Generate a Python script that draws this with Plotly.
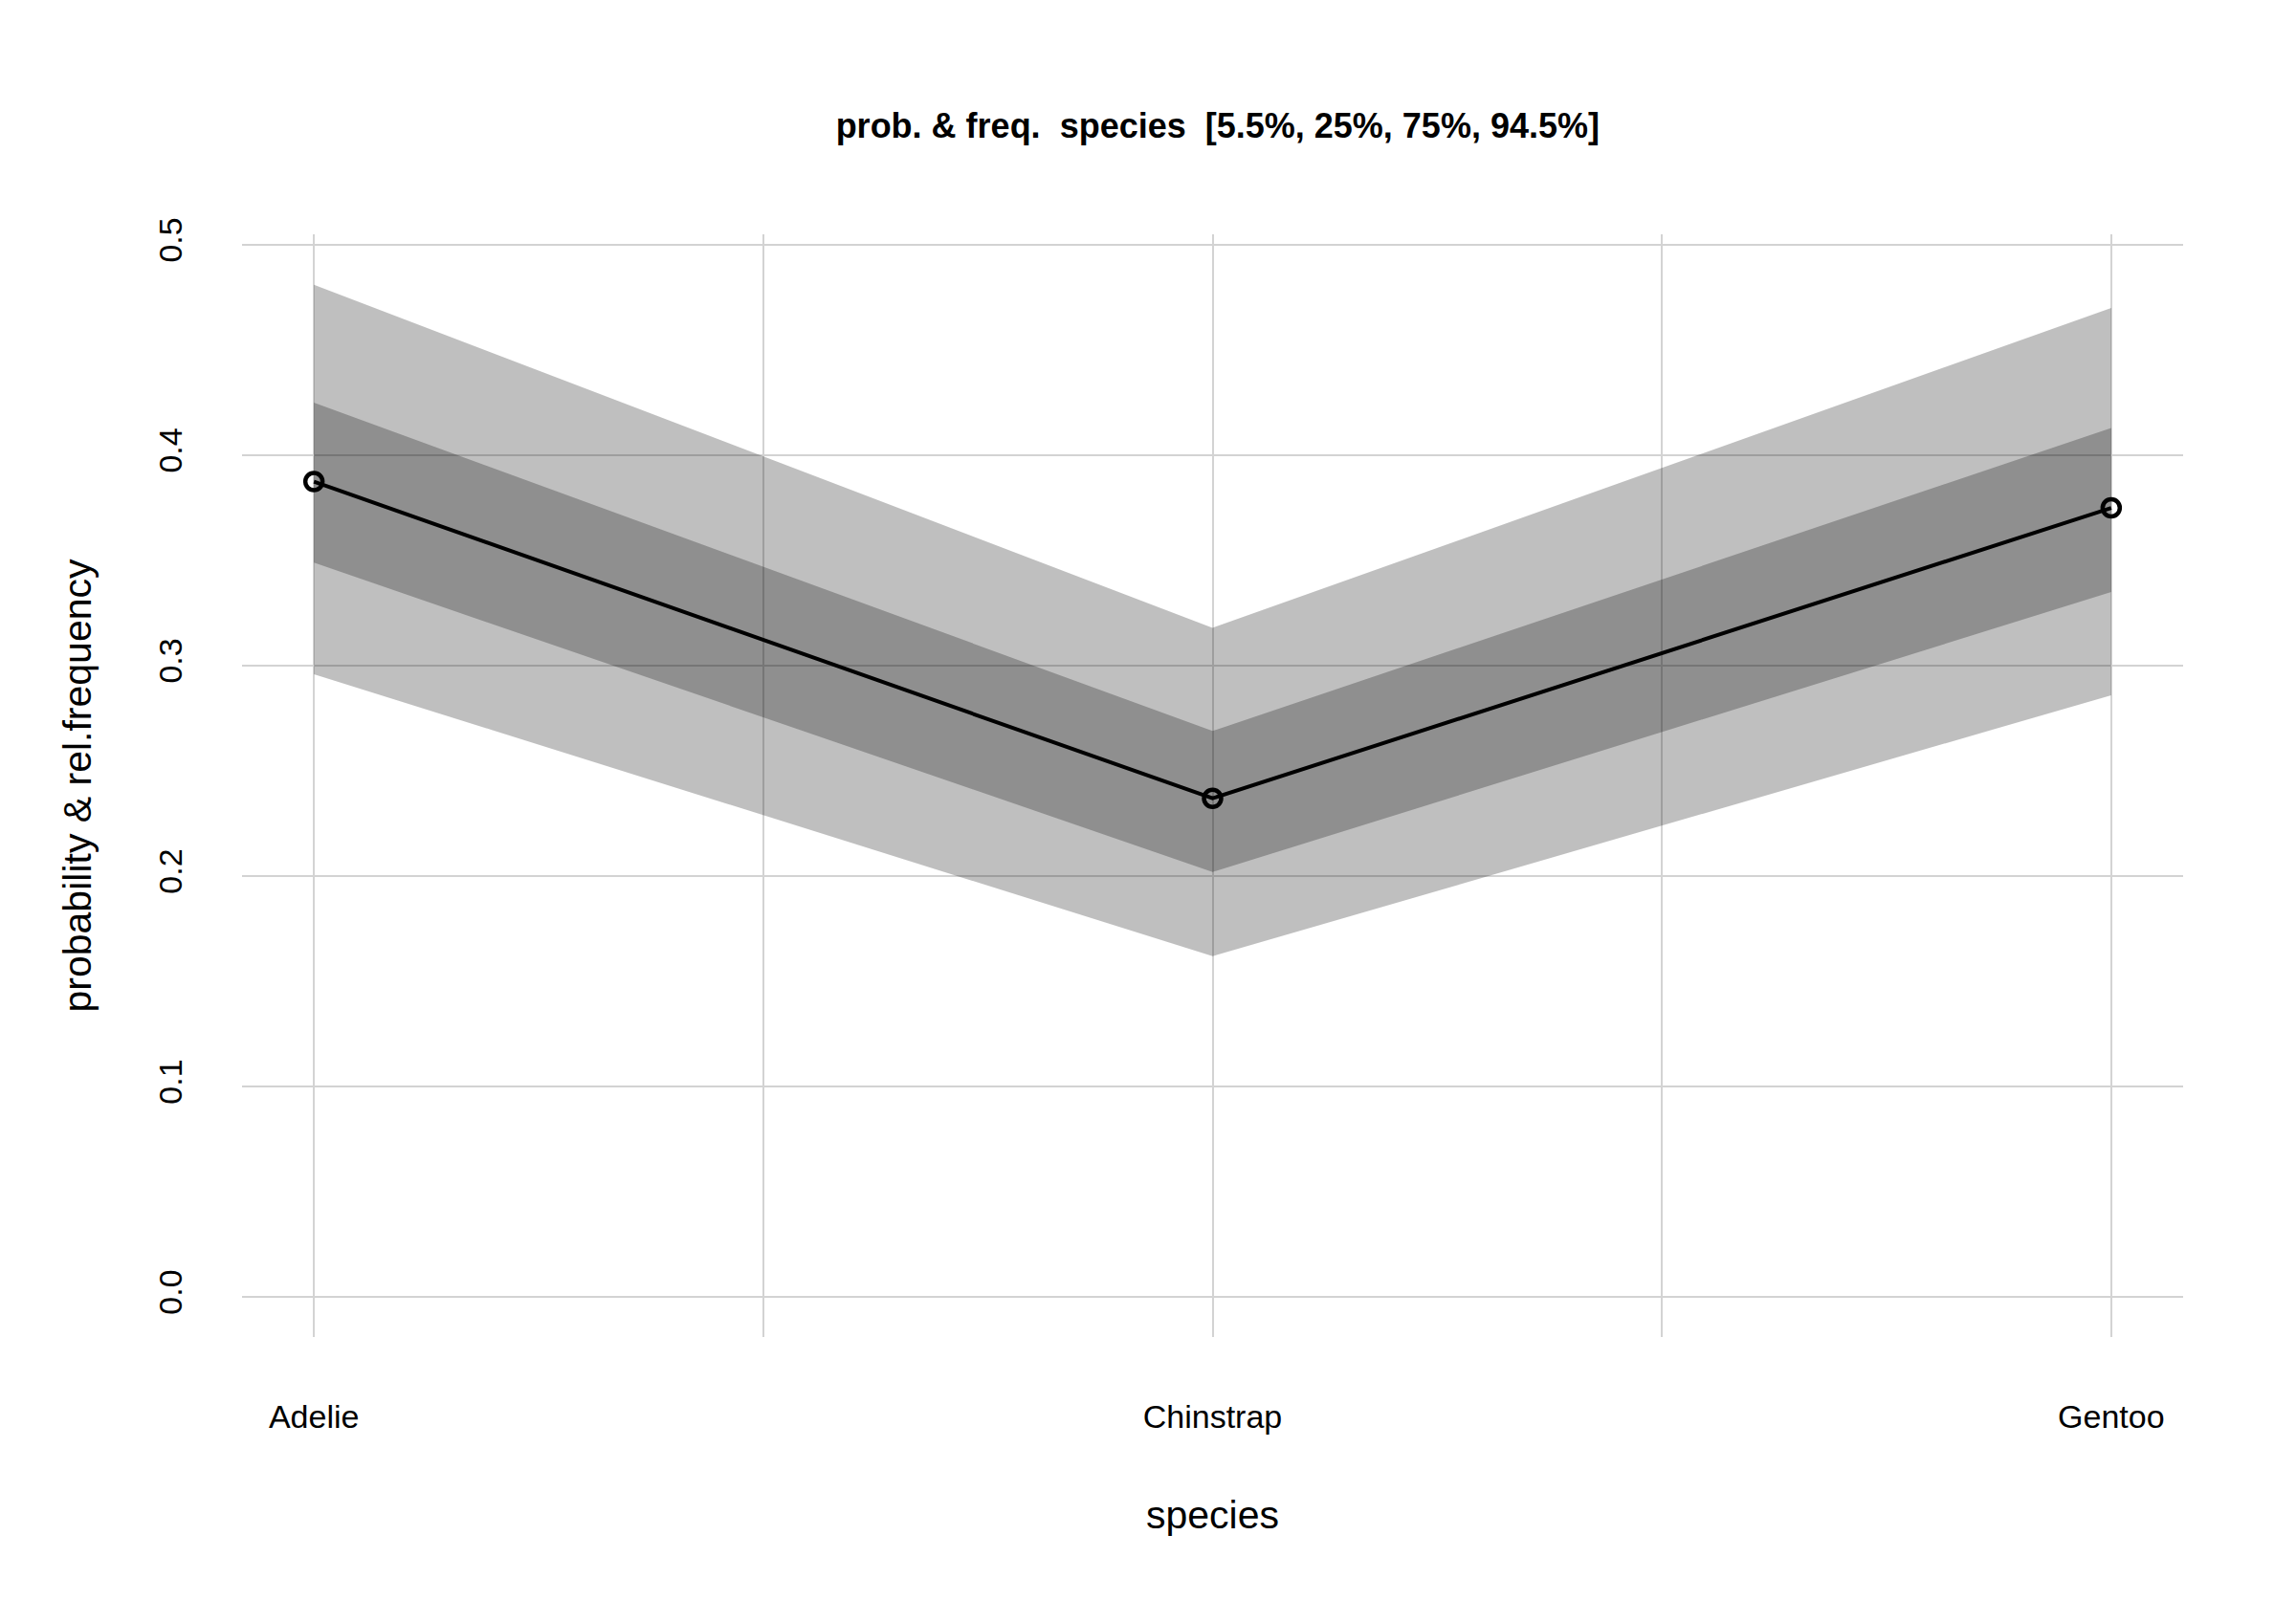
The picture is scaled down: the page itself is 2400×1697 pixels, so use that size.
import plotly.graph_objects as go

species = ["Adelie", "Chinstrap", "Gentoo"]
xpos = [1, 2, 3]
median = [0.3875, 0.237, 0.375]
q055 = [0.296, 0.162, 0.286]
q25 = [0.349, 0.202, 0.335]
q75 = [0.425, 0.269, 0.413]
q945 = [0.481, 0.318, 0.470]

fig = go.Figure()
band = "rgba(0,0,0,0.25)"
fig.add_trace(go.Scatter(x=xpos + xpos[::-1], y=q945 + q055[::-1], fill="toself",
                         fillcolor=band, line=dict(width=0), mode="lines", hoverinfo="skip"))
fig.add_trace(go.Scatter(x=xpos + xpos[::-1], y=q75 + q25[::-1], fill="toself",
                         fillcolor=band, line=dict(width=0), mode="lines", hoverinfo="skip"))
fig.add_trace(go.Scatter(x=xpos, y=median, mode="lines+markers",
                         line=dict(color="black", width=4),
                         marker=dict(symbol="circle-open", size=18, color="black",
                                     line=dict(width=4.5))))

fnt = dict(family="Liberation Sans, Arial", size=34, color="black")
fig.update_layout(
    width=2400, height=1697, showlegend=False,
    paper_bgcolor="white", plot_bgcolor="white",
    margin=dict(l=245, r=126, t=237, b=307),
    font=fnt,
    title=dict(text="<b>prob. & freq.  species  [5.5%, 25%, 75%, 94.5%]</b>",
               x=0.527, xanchor="center", y=0.927, yanchor="middle", font=dict(size=36)),
)
fig.update_xaxes(range=[0.92, 3.08], tickvals=xpos, ticktext=species,
                 showgrid=True, gridcolor="#d3d3d3", gridwidth=2,
                 minor=dict(tickvals=[1.5, 2.5], showgrid=True, gridcolor="#d3d3d3", gridwidth=2),
                 zeroline=False, showline=False, ticks="", ticklabelstandoff=60,
                 title=dict(text="species", standoff=70))
fig.update_yaxes(range=[-0.019, 0.505], tickvals=[0, 0.1, 0.2, 0.3, 0.4, 0.5],
                 ticktext=["0.0", "0.1", "0.2", "0.3", "0.4", "0.5"], tickangle=-90,
                 showgrid=True, gridcolor="#d3d3d3", gridwidth=2, zeroline=False,
                 showline=False, ticks="", ticklabelstandoff=55,
                 title=dict(text="probability & rel.frequency", standoff=50))
fig.write_html("out.html")
